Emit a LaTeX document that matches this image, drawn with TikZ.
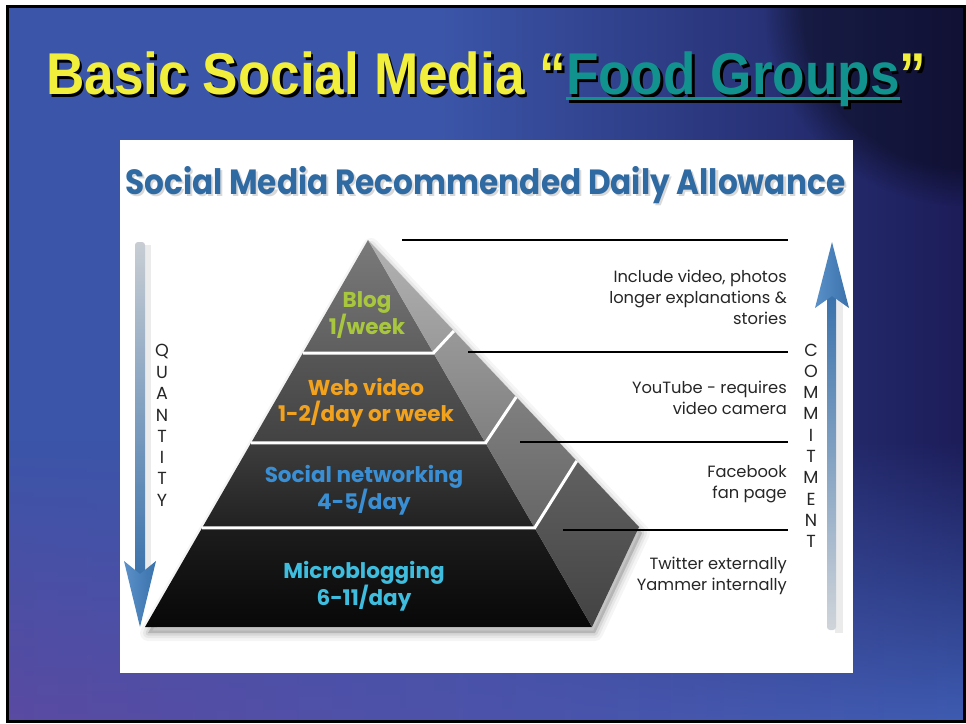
\documentclass[tikz,border=0pt]{standalone}
\usepackage{fontspec}
\setmainfont{Liberation Sans}
\newfontfamily\geo{Poppins}
\usetikzlibrary{calc,fadings}
\definecolor{bgL}{HTML}{3B55A8}
\definecolor{bgM}{HTML}{2C3488}
\definecolor{bgR}{HTML}{1C1C58}
\definecolor{bgBL}{HTML}{5A4AA2}
\definecolor{bgBR}{HTML}{3E5CB2}
\definecolor{ttyellow}{HTML}{F2EE3C}
\definecolor{ttteal}{HTML}{12928E}
\definecolor{subblue}{HTML}{2F6AA2}
\definecolor{cblog}{HTML}{A9C73E}
\definecolor{cweb}{HTML}{F2A21D}
\definecolor{csoc}{HTML}{3A8FD4}
\definecolor{cmic}{HTML}{3FBDDE}
\definecolor{arblue}{HTML}{3A72AC}
\definecolor{arlight}{HTML}{5B90C8}
\definecolor{argray}{HTML}{C8CDD3}
\newcommand\fgul[1]{\setbox0\hbox{#1}\rlap{\rule[-6pt]{\wd0}{3.2pt}}\box0}
\newcommand\titletext[2]{\textcolor{#1}{Basic Social Media “}\textcolor{#2}{\fgul{Food Groups}}\textcolor{#1}{”}}
\newcommand\withshadow[3]{\rlap{\hspace*{#1}\raisebox{-#1}{#2}}#3}
\begin{document}
\begin{tikzpicture}[x=1pt,y=-1pt,
  lbl/.style={font=\geo\bfseries\fontsize{21.5}{26}\selectfont, align=center, inner sep=0},
  note/.style={font=\geo\fontsize{16.3}{20.8}\selectfont, align=right, anchor=east, inner sep=0, text=black!85},
  vlet/.style={font=\geo\fontsize{17.5}{18}\selectfont, inner sep=0, text=black!85},
  sep/.style={white, line width=3pt},
  rline/.style={black, line width=1.2pt}]
\useasboundingbox (0,0) rectangle (966,723);
\fill[white] (0,0) rectangle (966,723);
% slide background
\begin{scope}
\clip (7,6) rectangle (964,722);
\fill[bgL] (7,6) rectangle (964,722);
\shade[left color=bgL, middle color=bgM, right color=bgR] (440,6) rectangle (964,722);
\shade[left color=bgBL, right color=bgBR, path fading=north] (7,440) rectangle (964,722);
\fill[black, opacity=0.4, path fading=circle with fuzzy edge 20 percent] (964,6) circle (200);
\end{scope}
\draw[black, line width=3pt] (7.5,6.5) rectangle (964.5,721.5);
% title
\node[anchor=base west, inner sep=0] (title) at (46,94)
  {\resizebox{880pt}{\height}{\fontsize{59}{62}\selectfont\bfseries
   \withshadow{3pt}{\titletext{black}{black}}{\titletext{ttyellow}{ttteal}}}};
% white panel
\fill[white] (120,140) rectangle (853,673);
% subtitle
\node[anchor=base west, inner sep=0] (sub) at (125,194)
  {\resizebox{720pt}{\height}{\geo\bfseries\fontsize{35}{36}\selectfont
   \withshadow{2.5pt}{\textcolor{black!15}{Social Media Recommended Daily Allowance}}{\textcolor{subblue}{Social Media Recommended Daily Allowance}}}};
% pyramid geometry
\coordinate (A) at (368,240);
\coordinate (BL) at (145,627);
\coordinate (BR) at (592,627);
\coordinate (R) at (639,527);
\coordinate (F1) at ($(A)!0.292!(BR)$);
\coordinate (F2) at ($(A)!0.5245!(BR)$);
\coordinate (F3) at ($(A)!0.744!(BR)$);
\coordinate (L1) at ($(A)!0.292!(BL)$);
\coordinate (L2) at ($(A)!0.5245!(BL)$);
\coordinate (L3) at ($(A)!0.744!(BL)$);
\coordinate (O1) at ($(A)!0.317!(R)$);
\coordinate (O2) at ($(A)!0.547!(R)$);
\coordinate (O3) at ($(A)!0.770!(R)$);
% shadow
\foreach \w/\o in {16/0.04,10/0.05,5/0.07}{
  \draw[black, fill=black, opacity=\o, line width=\w pt, line join=round]
    ([shift={(3,6)}]A) -- ([shift={(3,6)}]BL) -- ([shift={(3,6)}]BR) -- ([shift={(3,6)}]R) -- cycle;
}
% front layers
\shade[top color=black!52, bottom color=black!63] (A) -- (L1) -- (F1) -- cycle;
\shade[top color=black!66, bottom color=black!74] (L1) -- (L2) -- (F2) -- (F1) -- cycle;
\shade[top color=black!76, bottom color=black!87] (L2) -- (L3) -- (F3) -- (F2) -- cycle;
\shade[top color=black!89, bottom color=black!97] (L3) -- (BL) -- (BR) -- (F3) -- cycle;
% side face
\shade[top color=black!30, bottom color=black!40] (A) -- (F1) -- (O1) -- cycle;
\shade[top color=black!40, bottom color=black!50] (F1) -- (F2) -- (O2) -- (O1) -- cycle;
\shade[top color=black!50, bottom color=black!60] (F2) -- (F3) -- (O3) -- (O2) -- cycle;
\shade[top color=black!62, bottom color=black!74] (F3) -- (BR) -- (R) -- (O3) -- cycle;
% separators
\draw[sep] (L1) -- (F1) -- (O1);
\draw[sep] (L2) -- (F2) -- (O2);
\draw[sep] (L3) -- (F3) -- (O3);
% labels
\node[lbl, text=cblog] (blog) at (367,315) {Blog\\1/week};
\node[lbl, text=cweb] (web) at (366,403) {Web video\\1-2/day or week};
\node[lbl, text=csoc] (soc) at (364,490) {Social networking\\4-5/day};
\node[lbl, text=cmic] (mic) at (364,586) {Microblogging\\6-11/day};
% right rules
\coordinate (r0a) at (402,240); \coordinate (r0b) at (788,240);
\coordinate (r1a) at (468,352); \coordinate (r1b) at (788,352);
\coordinate (r2a) at (520,442); \coordinate (r2b) at (788,442);
\coordinate (r3a) at (563,530); \coordinate (r3b) at (788,530);
\draw[rline] (r0a) -- (r0b);
\draw[rline] (r1a) -- (r1b);
\draw[rline] (r2a) -- (r2b);
\draw[rline] (r3a) -- (r3b);
% notes
\node[note] (n1) at (787,297.5) {Include video, photos\\longer explanations \&\\stories};
\node[note] (n2) at (787,397.5) {YouTube - requires\\video camera};
\node[note] (n3) at (787,484) {Facebook\\fan page};
\node[note] (n4) at (787,576) {Twitter externally\\Yammer internally};
% vertical words
\foreach \l [count=\i from 0] in {Q,U,A,N,T,I,T,Y}
  \node[vlet] (q\i) at (162,{351+21.3*\i}) {\l};
\foreach \l [count=\i from 0] in {C,O,M,M,I,T,M,E,N,T}
  \node[vlet] (c\i) at (811,{350+21.3*\i}) {\l};
% left arrow (down)
\fill[black, opacity=0.08] (143,245) rectangle (151,582);
\shade[top color=argray, bottom color=arblue, rounded corners=3pt] (135,242) rectangle (145,580);
\shade[left color=arlight, right color=arblue] (140,627) -- (156,561) -- (140,574) -- (124,561) -- cycle;
% right arrow (up)
\fill[black, opacity=0.08] (835,300) rectangle (843,633);
\shade[top color=arblue, bottom color=argray!85!white, rounded corners=3pt] (827,295) rectangle (836,630);
\shade[left color=arlight, right color=arblue] (832,242) -- (849,308) -- (832,296) -- (815,308) -- cycle;
\end{tikzpicture}
\end{document}
